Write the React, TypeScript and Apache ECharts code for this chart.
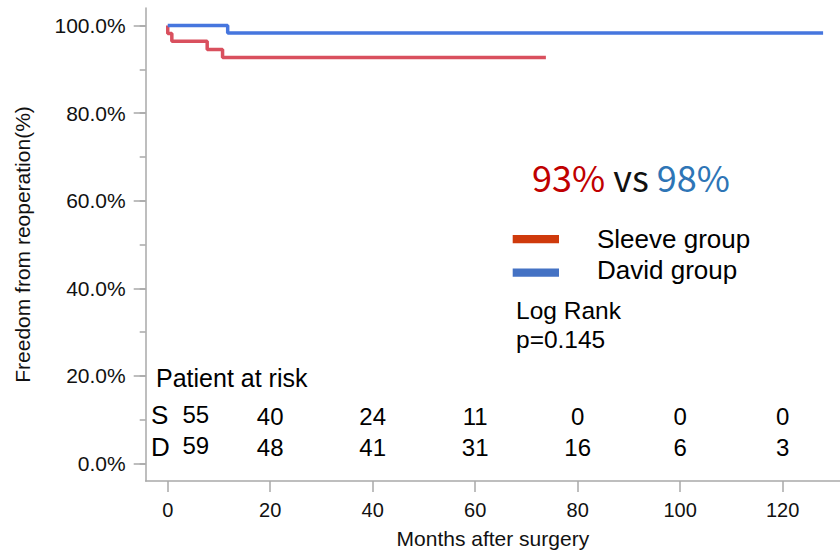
import React, { useEffect, useRef } from 'react';
import * as echarts from 'echarts';

// Kaplan–Meier step curves: [month, survival %]
const sleeveCurve: [number, number][] = [
  [0, 100], [0, 98.2], [0.8, 96.4], [7.7, 94.5], [10.7, 92.7], [73.8, 92.7],
];
const davidCurve: [number, number][] = [
  [0, 100], [11.7, 98.3], [127.9, 98.3],
];

// Numbers at risk
const riskMonths = [0, 20, 40, 60, 80, 100, 120];
const riskSleeve = [55, 40, 24, 11, 0, 0, 0];
const riskDavid = [59, 48, 41, 31, 16, 6, 3];

// Axis ticks
const xTicks = [0, 20, 40, 60, 80, 100, 120];
const yMajorTicks = [0, 20, 40, 60, 80, 100];
const yAllTicks = [0, 10, 20, 30, 40, 50, 60, 70, 80, 90, 100];

const AXIS_COLOR = '#A9A9A9';
const SANS = '"Liberation Sans", Arial, sans-serif';
const JP = '"Noto Sans CJK JP", "Noto Sans", sans-serif';

export default function App() {
  const ref = useRef<HTMLDivElement>(null);

  useEffect(() => {
    if (!ref.current) return;
    const chart = echarts.init(ref.current, null, { renderer: 'svg' });

    const txt = (x: number, y: number, text: string, size: number, lineHeight: number) => ({
      type: 'text',
      x,
      y,
      style: { text, fontFamily: SANS, fontSize: size, lineHeight, fill: '#000', verticalAlign: 'middle' },
    });

    chart.setOption({
      animation: false,
      grid: { left: 145.7, right: 0, top: 8, bottom: 71.3, containLabel: false },
      xAxis: {
        type: 'value',
        min: -4.3,
        max: 131.2,
        name: 'Months after surgery',
        nameLocation: 'middle',
        nameGap: 47,
        nameTextStyle: { fontFamily: SANS, fontSize: 21, color: '#111' },
        axisLine: { show: true, onZero: false, lineStyle: { color: AXIS_COLOR, width: 1.5 } },
        axisTick: { show: true, length: 11, customValues: xTicks, lineStyle: { color: AXIS_COLOR, width: 1.5 } },
        axisLabel: {
          show: true,
          customValues: xTicks,
          margin: 19,
          fontFamily: SANS,
          fontSize: 20,
          color: '#111',
        },
        splitLine: { show: false },
      },
      yAxis: [
        {
          type: 'value',
          min: -4,
          max: 104,
          name: 'Freedom from reoperation(%)',
          nameLocation: 'middle',
          nameGap: 113,
          nameTextStyle: { fontFamily: SANS, fontSize: 21, color: '#111' },
          axisLine: { show: true, onZero: false, lineStyle: { color: AXIS_COLOR, width: 1.5 } },
          axisTick: { show: true, length: 6, customValues: yAllTicks, lineStyle: { color: AXIS_COLOR, width: 1.5 } },
          axisLabel: { show: false },
          splitLine: { show: false },
        },
        {
          type: 'value',
          min: -4,
          max: 104,
          position: 'left',
          offset: 0,
          axisLine: { show: false, onZero: false },
          axisTick: { show: true, length: 12, customValues: yMajorTicks, lineStyle: { color: AXIS_COLOR, width: 1.5 } },
          axisLabel: {
            show: true,
            customValues: yMajorTicks,
            margin: 20,
            formatter: (v: number) => v.toFixed(1) + '%',
            fontFamily: SANS,
            fontSize: 21,
            color: '#111',
          },
          splitLine: { show: false },
        },
      ],
      series: [
        {
          name: 'Sleeve group',
          type: 'line',
          step: 'end',
          data: sleeveCurve,
          showSymbol: false,
          lineStyle: { color: '#D9505E', width: 3.5 },
          itemStyle: { color: '#D9505E' },
          z: 3,
        },
        {
          name: 'David group',
          type: 'line',
          step: 'end',
          data: davidCurve,
          showSymbol: false,
          lineStyle: { color: '#4676DE', width: 3.5 },
          itemStyle: { color: '#4676DE' },
          z: 4,
        },
        {
          name: 'Patients at risk',
          type: 'scatter',
          symbolSize: 0,
          silent: true,
          itemStyle: { opacity: 1, color: '#000' },
          data: riskMonths.map((m, i) => ({
            value: [m, 7.1, riskSleeve[i], riskDavid[i]],
            label: i === 0 ? { offset: [28, -2] } : undefined,
          })),
          label: {
            show: true,
            position: 'inside',
            formatter: (p: any) => `${p.value[2]}\n${p.value[3]}`,
            fontFamily: SANS,
            fontSize: 24,
            lineHeight: 31,
            align: 'center',
            color: '#000',
            opacity: 1,
          },
          z: 5,
        },
      ],
      graphic: [
        {
          type: 'text',
          x: 532,
          y: 176,
          style: {
            text: '{r|93%} {k|vs} {b|98%}',
            verticalAlign: 'middle',
            align: 'left',
            fontFamily: JP,
            fontSize: 36,
            rich: {
              r: { fill: '#C00000', fontFamily: JP, fontSize: 36 },
              k: { fill: '#111111', fontFamily: JP, fontSize: 36 },
              b: { fill: '#2E75B6', fontFamily: JP, fontSize: 36 },
            },
          },
        },
        { type: 'rect', shape: { x: 512.7, y: 235, width: 46.3, height: 8.3 }, style: { fill: '#CF3A0C' } },
        { type: 'rect', shape: { x: 512.7, y: 268.5, width: 46.3, height: 8.3 }, style: { fill: '#4472C4' } },
        txt(597, 254.5, 'Sleeve group\nDavid group', 26, 30.5),
        txt(516, 325, 'Log Rank\np=0.145', 24.5, 28.5),
        txt(156, 378, 'Patient at risk', 25, 25),
        txt(151, 431, 'S\nD', 26, 32),
      ],
    });

    return () => chart.dispose();
  }, []);

  return (
    <div
      ref={ref}
      style={{ position: 'fixed', left: 0, top: 0, width: 840, height: 554, background: '#fff' }}
    />
  );
}
